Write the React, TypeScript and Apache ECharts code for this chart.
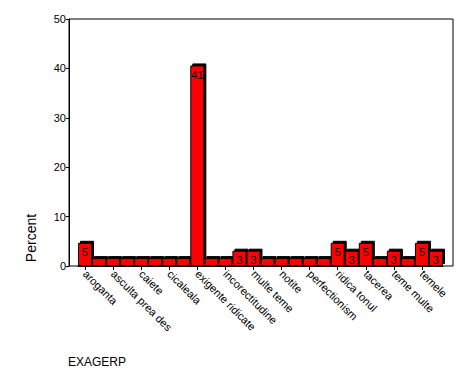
import React, { useEffect, useRef } from "react";
import * as echarts from "echarts";

const categories = [
  "aroganta",
  "asculta",
  "asculta prea des",
  "bataie",
  "caiete",
  "certuri",
  "cicaleala",
  "disciplina",
  "exigente ridicate",
  "ignorare",
  "incorectitudine",
  "lipsa de rabdare",
  "multe teme",
  "nedreptate",
  "notite",
  "pedepse",
  "perfectionism",
  "pretentii",
  "ridica tonul",
  "severitate",
  "tacerea",
  "teme grele",
  "teme multe",
  "teme suplimentare",
  "temele",
  "tipa",
];

const percentValues = [
  4.7, 1.6, 1.6, 1.6, 1.6, 1.6, 1.6, 1.6, 40.6, 1.6, 1.6, 3.1, 3.1, 1.6, 1.6,
  1.6, 1.6, 1.6, 4.7, 3.1, 4.7, 1.6, 3.1, 1.6, 4.7, 3.1,
];

const yTicks = [0, 10, 20, 30, 40, 50];

const FONT = "'Liberation Sans', Arial, sans-serif";

export default function App() {
  const ref = useRef<HTMLDivElement>(null);

  useEffect(() => {
    document.body.style.margin = "0";
    if (!ref.current) return;
    const chart = echarts.init(ref.current, undefined, { renderer: "svg" });
    chart.setOption({
      animation: false,
      backgroundColor: "#ffffff",
      grid: { left: 78, right: 31, top: 19, bottom: 113, containLabel: false },
      xAxis: {
        type: "category",
        data: categories,
        boundaryGap: true,
        axisLine: { show: true, lineStyle: { color: "#000", width: 1 } },
        axisTick: {
          show: true,
          alignWithLabel: true,
          interval: 1,
          length: 4,
          lineStyle: { color: "#000" },
        },
        axisLabel: {
          interval: 1,
          rotate: -45,
          fontSize: 11,
          fontFamily: FONT,
          color: "#000",
          margin: 6,
        },
        splitLine: { show: false },
      },
      yAxis: {
        type: "value",
        min: yTicks[0],
        max: yTicks[yTicks.length - 1],
        interval: 10,
        offset: 9,
        axisLine: { show: true, lineStyle: { color: "#000", width: 1 } },
        axisTick: { show: true, length: 3, lineStyle: { color: "#000" } },
        axisLabel: {
          fontSize: 11,
          fontFamily: FONT,
          color: "#000",
          margin: 3,
        },
        splitLine: { show: false },
      },
      series: [
        {
          type: "bar",
          data: percentValues,
          barCategoryGap: "0%",
          itemStyle: {
            color: "#ff0000",
            borderColor: "#000",
            borderWidth: 1,
            shadowColor: "#000",
            shadowBlur: 0,
            shadowOffsetX: 2,
            shadowOffsetY: -2,
          },
          label: {
            show: true,
            position: "insideTop",
            distance: 4,
            fontSize: 11,
            fontFamily: FONT,
            color: "#000",
            formatter: (p: any) => (p.value >= 3 ? String(Math.round(p.value)) : ""),
          },
        },
      ],
      graphic: [
        {
          type: "rect",
          shape: { x: 69, y: 19, width: 384, height: 247 },
          style: { fill: "none", stroke: "#000", lineWidth: 1 },
          silent: true,
          z: 10,
        },
        {
          type: "text",
          x: 31,
          y: 238,
          rotation: Math.PI / 2,
          style: {
            text: "Percent",
            fontSize: 14,
            fontFamily: FONT,
            fill: "#000",
            textAlign: "center",
            textVerticalAlign: "middle",
          },
        },
        {
          type: "text",
          x: 68,
          y: 362,
          style: {
            text: "EXAGERP",
            fontSize: 12,
            fontFamily: FONT,
            fill: "#000",
            textAlign: "left",
            textVerticalAlign: "middle",
          },
        },
      ],
    });
    return () => chart.dispose();
  }, []);

  return <div ref={ref} style={{ width: 474, height: 379 }} />;
}
